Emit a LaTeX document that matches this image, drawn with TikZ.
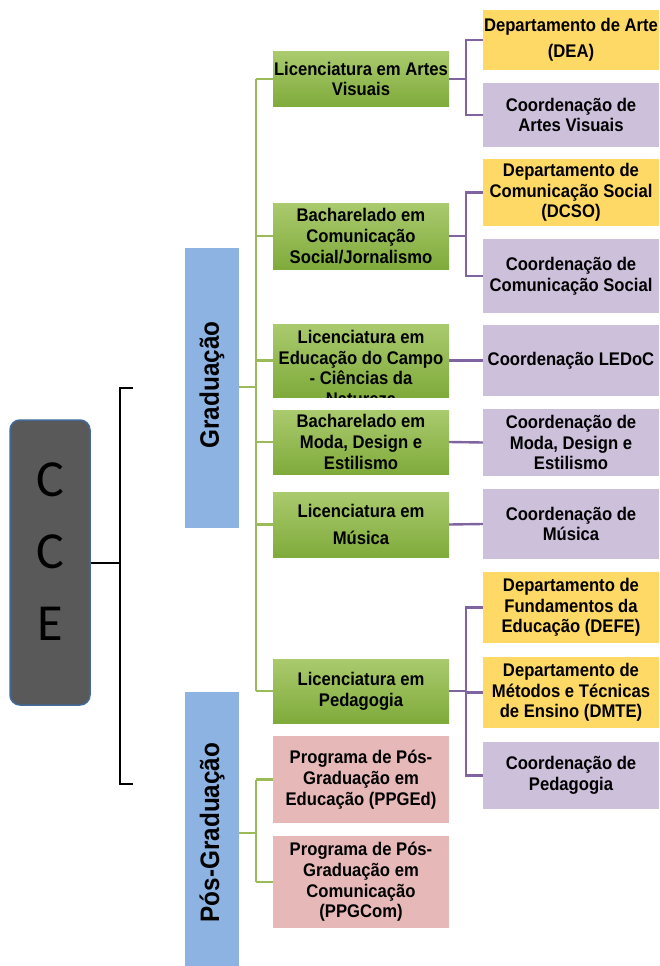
\documentclass[tikz,border=0pt]{standalone}
\usepackage{fontspec}
\setmainfont{Liberation Sans}[FakeStretch=0.91]
\newfontfamily\ccefont{Carlito}
\definecolor{grnTop}{HTML}{AACA6E}
\definecolor{grnBot}{HTML}{7FAB3B}
\definecolor{lineG}{HTML}{9BBB59}
\definecolor{lineP}{HTML}{8064A2}
\definecolor{yellowF}{HTML}{FFD966}
\definecolor{lilacF}{HTML}{CCC0DA}
\definecolor{pinkF}{HTML}{E6B9B8}
\definecolor{blueF}{HTML}{8DB3E2}
\definecolor{cceF}{HTML}{595959}
\definecolor{cceB}{HTML}{41699A}
\tikzset{
  box/.style={rectangle, inner sep=0pt, minimum width=176pt, align=center,
    font=\bfseries\fontsize{18.3}{20.7}\selectfont},
  greenbox/.style={box, top color=grnTop, bottom color=grnBot},
  yellowbox/.style={box, fill=yellowF},
  lilacbox/.style={box, fill=lilacF},
  pinkbox/.style={box, fill=pinkF},
  bluebox/.style={rectangle, fill=blueF, minimum width=54pt, inner sep=0pt},
  sidelabel/.style={rotate=90, inner sep=0pt, font=\bfseries\fontsize{26.7}{30}\selectfont},
  gline/.style={draw=lineG, line width=2.4pt},
  pline/.style={draw=lineP, line width=2.4pt},
  kline/.style={draw=black, line width=1.8pt},
}
\begin{document}
\begin{tikzpicture}[x=1pt, y=-1pt]
\useasboundingbox (0,0) rectangle (659,966);

% root unit
\node[rectangle, rounded corners=10pt, fill=cceF, draw=cceB, line width=1.5pt,
      minimum width=80pt, minimum height=285pt] (cce) at (50,562.5) {};
\node[align=center, inner sep=0pt, font=\ccefont\fontsize{52}{72}\selectfont] (ccetxt) at (50,552) {C\\C\\E};

% bracket joining the two levels
\coordinate (bmid) at (120,563);
\coordinate (btop) at (120,388);
\coordinate (bbot) at (120,784);
\coordinate (btopend) at (133,388);
\coordinate (bbotend) at (133,784);
\draw[kline] (cce.east |- bmid) -- (bmid);
\draw[kline] (btopend) -- (btop) -- (bbot) -- (bbotend);

% level boxes
\node[bluebox, minimum height=280pt] (grad) at (212,388) {};
\node[sidelabel] (gradlbl) at (212,385) {Graduação};
\node[bluebox, minimum height=278pt] (pos) at (212,831) {};
\node[sidelabel] (poslbl) at (212,832.5) {Pós-Graduação};

% undergraduate courses
\node[greenbox, minimum height=54pt] (g1) at (361,79) {Licenciatura em Artes\\Visuais};
\node[greenbox, minimum height=66pt] (g2) at (361,236) {Bacharelado em\\Comunicação\\Social/Jornalismo};
\node[greenbox, minimum height=73pt] (g3) at (361,360.5) {};
\begin{scope}
  \clip (g3.south west) rectangle (g3.north east);
  \node[box, anchor=north] (g3txt) at (361,330) {Licenciatura em\\Educação do Campo\\- Ciências da\\Natureza};
\end{scope}
\node[greenbox, minimum height=64pt] (g4) at (361,442) {Bacharelado em\\Moda, Design e\\Estilismo};
\node[greenbox, minimum height=65pt] (g5) at (361,524.5) {Licenciatura em\\[6pt]Música};
\node[greenbox, minimum height=64pt] (g6) at (361,691) {Licenciatura em\\Pedagogia};

% graduate programmes
\node[pinkbox, minimum height=87pt] (p1) at (361,779.5) {Programa de Pós-\\Graduação em\\Educação (PPGEd)};
\node[pinkbox, minimum height=92pt] (p2) at (361,882) {Programa de Pós-\\Graduação em\\Comunicação\\(PPGCom)};

% departments and coordinations
\node[yellowbox, minimum height=60pt] (r1) at (571,40) {Departamento de Arte\\[5pt](DEA)};
\node[lilacbox, minimum height=64pt] (r2) at (571,115) {Coordenação de\\Artes Visuais};
\node[yellowbox, minimum height=67pt] (r3) at (571,192.5) {Departamento de\\Comunicação Social\\(DCSO)};
\node[lilacbox, minimum height=74pt] (r4) at (571,276) {Coordenação de\\Comunicação Social};
\node[lilacbox, minimum height=71pt] (r5) at (571,360.5) {Coordenação LEDoC};
\node[lilacbox, minimum height=67pt] (r6) at (571,442.5) {Coordenação de\\Moda, Design e\\Estilismo};
\node[lilacbox, minimum height=70pt] (r7) at (571,524) {Coordenação de\\Música};
\node[yellowbox, minimum height=71pt] (r8) at (571,607.5) {Departamento de\\Fundamentos da\\Educação (DEFE)};
\node[yellowbox, minimum height=71pt] (r9) at (571,692.5) {Departamento de\\Métodos e Técnicas\\de Ensino (DMTE)};
\node[lilacbox, minimum height=67pt] (r10) at (571,775.5) {Coordenação de\\Pedagogia};

% undergraduate tree
\coordinate (gtrunk) at (256,387);
\draw[gline] (grad.east |- gtrunk) -- (gtrunk);
\draw[gline] (gtrunk |- g1.west) -- (gtrunk |- g6.west);
\foreach \n in {g1,g2,g3,g4,g5,g6}
  \draw[gline] (gtrunk |- \n.west) -- (\n.west);

% graduate tree
\coordinate (ptrunk) at (256,833);
\draw[gline] (pos.east |- ptrunk) -- (ptrunk);
\draw[gline] (ptrunk |- p1.west) -- (ptrunk |- p2.west);
\foreach \n in {p1,p2}
  \draw[gline] (ptrunk |- \n.west) -- (\n.west);

% course to department/coordination links
\coordinate (pcol) at (466,0);
\draw[pline] (g1.east) -- (pcol |- g1.east);
\draw[pline] (r1.west) -- (pcol |- r1.west) -- (pcol |- r2.west) -- (r2.west);
\draw[pline] (g2.east) -- (pcol |- g2.east);
\draw[pline] (r3.west) -- (pcol |- r3.west) -- (pcol |- r4.west) -- (r4.west);
\draw[pline] (g3.east) -- (r5.west);
\draw[pline] (g4.east) -- (r6.west);
\draw[pline] (g5.east) -- (r7.west);
\draw[pline] (g6.east) -- (pcol |- g6.east);
\draw[pline] (r8.west) -- (pcol |- r8.west) -- (pcol |- r10.west) -- (r10.west);
\draw[pline] (pcol |- r9.west) -- (r9.west);
\end{tikzpicture}
\end{document}
